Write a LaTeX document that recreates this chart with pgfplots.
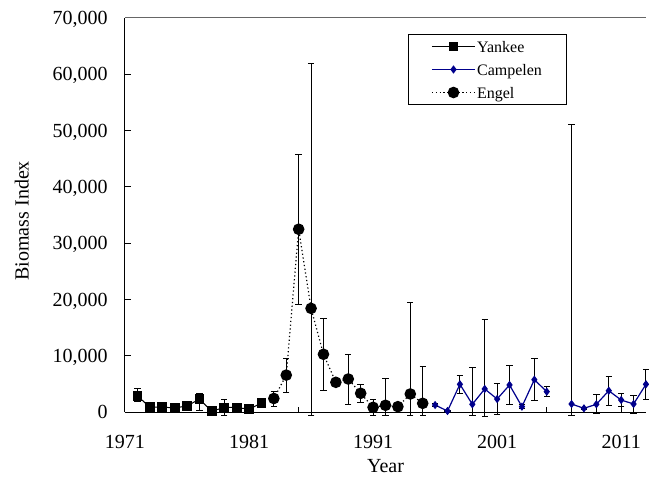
\documentclass[border=0pt]{standalone}
\usepackage{fontspec}
\setmainfont{Liberation Serif}
\usepackage{pgfplots}
\usepackage{pgfplotstable}
\pgfplotsset{compat=1.18}
\definecolor{campblue}{RGB}{0,0,140}

\pgfplotstableread{
x y ep em
1972 2900 1200 1100
1973 830 200 200
1974 900 200 200
1975 700 200 200
1976 1100 200 200
1977 2250 1050 1900
1978 150 200 200
1979 800 1500 1500
1980 800 200 200
1981 500 200 200
1982 1600 200 200
}\yankee

\pgfplotstableread{
x y ep em
1996 1240 200 200
1997 180 150 150
1998 4920 1530 1600
1999 1370 6500 2070
2000 4090 12250 4800
2001 2300 2730 2830
2002 4800 3430 3430
2003 950 300 300
2004 5740 3730 3730
2005 3610 890 890
2006 nan 0 0
2007 1420 49600 2100
2008 650 200 200
2009 1370 1650 1720
2010 3780 2610 2590
2011 2130 1120 1180
2012 1420 1540 1650
2013 4920 2660 2670
}\campelen

\pgfplotstableread{
x y ep em
1983 2400 1300 1450
1984 6550 2950 3050
1985 32450 13300 13450
1986 18400 43500 19100
1987 10250 6400 6450
1988 5270 200 200
1989 5860 4400 4450
1990 3320 1480 1670
1991 830 1470 1530
1992 1190 4670 1890
1993 950 200 200
1994 3200 16200 3900
1995 1540 6500 2240
}\engel

\begin{document}
\begin{tikzpicture}
\begin{axis}[
  scale only axis, width=260.5pt, height=197.15pt,
  xmin=1971, xmax=2013, ymin=0, ymax=70000,
  axis x line*=bottom, axis y line*=left,
  axis line style={black, line width=0.5pt},
  clip=false,
  unbounded coords=jump,
  xtick={1971,1981,1991,2001,2011},
  minor xtick={1975,1985,1995,2005},
  ytick={0,10000,...,70000},
  tick align=inside, major tick length=3pt, minor tick length=2.5pt,
  tick style={black, line width=0.5pt},
  scaled y ticks=false,
  /pgf/number format/assume math mode=true,
  yticklabel style={/pgf/number format/fixed, /pgf/number format/1000 sep={,}},
  xticklabel style={/pgf/number format/1000 sep={}},
  ticklabel style={font=\fontsize{10}{12}\selectfont},
  yticklabel style={anchor=east, inner sep=0pt, text depth=0pt, xshift=-8.5pt},
  xticklabel style={anchor=base, inner sep=0pt, yshift=-18pt},
  xlabel={Year},
  ylabel={Biomass Index},
  xlabel style={font=\fontsize{10}{12}\selectfont, at={(axis description cs:0.5,-0.1534)}, anchor=base, inner sep=0pt},
  ylabel style={font=\fontsize{10}{12}\selectfont, at={(axis description cs:-0.198,0.485)}, anchor=center, inner sep=0pt},
  legend style={at={(rel axis cs:0.543,0.9587)}, anchor=north west, draw=black, line width=0.5pt,
    font=\fontsize{8}{9.6}\selectfont, inner xsep=11.5pt, inner ysep=0.25pt, row sep=0pt,
    cells={anchor=west}, nodes={minimum height=11.5pt, inner ysep=0pt, inner xsep=0.75pt, text depth=0pt}},
  legend image code/.code={\draw[mark repeat=2, mark phase=2, #1] plot coordinates {(0pt,0pt) (10.75pt,0pt) (21.5pt,0pt)};},
  error bars/y dir=both, error bars/y explicit,
  error bars/error bar style={black, line width=0.5pt, solid},
  error bars/error mark options={black, mark size=1.6pt, line width=0.5pt, solid, rotate=90},
]
\addplot[black, line width=0.5pt, mark=square*, mark size=2.2pt, mark options={solid, fill=black}]
  table[x=x, y=y, y error plus=ep, y error minus=em] {\yankee};
\addlegendentry{Yankee}
\addplot[campblue, line width=0.6pt, mark=diamond*, mark size=1.6pt, mark options={solid, fill=campblue}]
  table[x=x, y=y, y error plus=ep, y error minus=em] {\campelen};
\addlegendentry{Campelen}
\addplot[black, line width=0.6pt, dash pattern=on 0.6pt off 1.3pt, mark=*, mark size=2.6pt, mark options={solid, fill=black}]
  table[x=x, y=y, y error plus=ep, y error minus=em] {\engel};
\addlegendentry{Engel}
\draw[black!60, line width=0.5pt] (rel axis cs:0,1) -- (rel axis cs:1,1);
\coordinate (sw) at (rel axis cs:0,0);
\end{axis}
\pgfresetboundingbox
\path[use as bounding box] ([shift={(-62.5pt,-33pt)}]sw) rectangle ++(324.5pt,239pt);
\end{tikzpicture}
\end{document}
